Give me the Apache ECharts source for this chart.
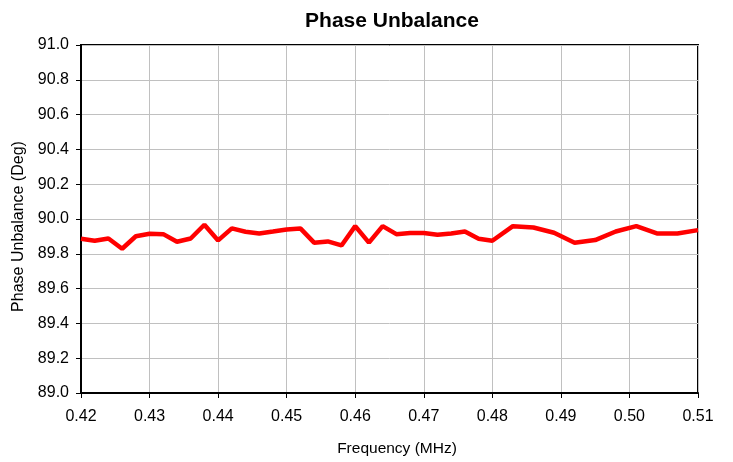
<!DOCTYPE html>
<html>
<head>
<meta charset="utf-8">
<script src="https://cdn.jsdelivr.net/npm/echarts@6/dist/echarts.min.js"></script>
<style>html,body{margin:0;padding:0;background:#fff}#c{width:733px;height:462px}</style>
</head>
<body>
<div id="c"></div>
<script>
var freqs = [0.420,0.422,0.424,0.426,0.428,0.430,0.432,0.434,0.436,0.438,0.440,0.442,0.444,0.446,0.448,0.450,0.452,0.454,0.456,0.458,0.460,0.462,0.464,0.466,0.468,0.470,0.472,0.474,0.476,0.478,0.480,0.483,0.486,0.489,0.492,0.495,0.498,0.501,0.504,0.507,0.510];
var phase = [89.887,89.875,89.888,89.829,89.901,89.915,89.913,89.869,89.888,89.967,89.877,89.946,89.927,89.917,89.928,89.940,89.946,89.864,89.871,89.848,89.959,89.864,89.959,89.913,89.919,89.919,89.909,89.917,89.928,89.887,89.875,89.959,89.951,89.921,89.864,89.879,89.928,89.959,89.917,89.917,89.936];
var titleText = "Phase Unbalance";
var xName = "Frequency (MHz)";
var yName = "Phase Unbalance (Deg)";

var data = freqs.map(function(f,i){return [f, phase[i]];});
var chart = echarts.init(document.getElementById('c'));
var font = "'Liberation Sans', Arial, sans-serif";
chart.setOption({
  animation: false,
  title: {text: titleText, left: 387, textAlign: 'center', top: 6,
    textStyle: {fontFamily: font, fontSize: 21, fontWeight: 'bold', color: '#000'}},
  grid: {left: 81, right: 35, top: 45, bottom: 68, show: true, borderColor: '#000', borderWidth: 2, backgroundColor: 'transparent'},
  xAxis: {type: 'value', min: 0.42, max: 0.51, interval: 0.01,
    name: xName, nameLocation: 'middle', nameGap: 48,
    nameTextStyle: {fontFamily: font, fontSize: 15.5, color: '#000', padding: [0,0,0,15]},
    axisLine: {show: true, lineStyle: {color: '#000', width: 2}},
    axisTick: {show: true, length: 5, lineStyle: {color: '#000'}},
    axisLabel: {fontFamily: font, fontSize: 16, color: '#000', margin: 16,
      formatter: function(v){return v.toFixed(2);}},
    splitLine: {show: true, lineStyle: {color: '#c0c0c0', width: 1}}},
  yAxis: {type: 'value', min: 89, max: 91, interval: 0.2,
    name: yName, nameLocation: 'middle', nameGap: 54, nameRotate: 90,
    nameTextStyle: {fontFamily: font, fontSize: 16, color: '#000', padding: [0,15,0,0]},
    axisLine: {show: true, lineStyle: {color: '#000', width: 2}},
    axisTick: {show: true, length: 5, lineStyle: {color: '#000'}},
    axisLabel: {fontFamily: font, fontSize: 16, color: '#000', margin: 12,
      formatter: function(v){return v.toFixed(1);}},
    splitLine: {show: true, lineStyle: {color: '#c0c0c0', width: 1}}},
  series: [{type: 'line', data: data, showSymbol: false, symbol: 'none',
    lineStyle: {color: '#ff0000', width: 4.5}, itemStyle: {color: '#ff0000'}}]
});
</script>
</body>
</html>
